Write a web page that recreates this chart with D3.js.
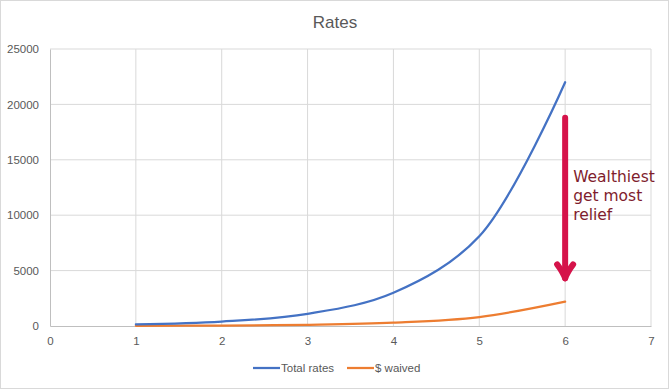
<!DOCTYPE html>
<html>
<head>
<meta charset="utf-8">
<script src="https://cdn.jsdelivr.net/npm/d3@7"></script>
<style>
  body { margin: 0; background: #fff; }
  svg { display: block; font-family: "Liberation Sans", Arial, sans-serif; }
  .tick text { fill: #595959; font-size: 11.5px; }
</style>
</head>
<body>
<div id="chart"></div>
<script>
// chart values
const years = [1, 2, 3, 4, 5, 6];
const totalRates = [150, 400, 1100, 3000, 8100, 22000];
const dollarsWaived = [15, 40, 110, 300, 810, 2200];
const xTicks = [0, 1, 2, 3, 4, 5, 6, 7];
const yTicks = [0, 5000, 10000, 15000, 20000, 25000];
const seriesNames = ['Total rates', '$ waived'];
const noteLines = ['Wealthiest', 'get most', 'relief'];

const width = 669, height = 389;
const margin = {top: 49, right: 18, bottom: 63, left: 50};
const innerW = width - margin.left - margin.right;
const innerH = height - margin.top - margin.bottom;

const svg = d3.select('#chart').append('svg')
    .attr('width', width)
    .attr('height', height);

// outer chart border
svg.append('rect')
    .attr('x', 0.5).attr('y', 0.5)
    .attr('width', width - 1).attr('height', height - 1)
    .attr('fill', '#fff')
    .attr('stroke', '#d9d9d9');

svg.append('text')
    .attr('x', 335).attr('y', 28)
    .attr('text-anchor', 'middle')
    .attr('fill', '#595959')
    .style('font-size', '17px')
    .text('Rates');

const chart = svg.append('g')
    .attr('transform', `translate(${margin.left},${margin.top})`);

const x = d3.scaleLinear().domain([0, 7]).range([0, innerW]);
const y = d3.scaleLinear().domain([0, 25000]).range([innerH, 0]);

// gridlines
chart.append('g')
    .selectAll('line.vgrid')
    .data(xTicks.slice(1))
  .join('line')
    .attr('x1', d => x(d)).attr('x2', d => x(d))
    .attr('y1', 0).attr('y2', innerH)
    .attr('stroke', '#d9d9d9');

chart.append('g')
    .selectAll('line.hgrid')
    .data(yTicks.slice(1))
  .join('line')
    .attr('x1', 0).attr('x2', innerW)
    .attr('y1', d => y(d)).attr('y2', d => y(d))
    .attr('stroke', '#d9d9d9');

// axes
const xAxis = chart.append('g')
    .attr('transform', `translate(0,${innerH})`)
    .call(d3.axisBottom(x).tickValues(xTicks).tickSize(0).tickPadding(11).tickFormat(d3.format('d')));
xAxis.select('.domain').attr('stroke', '#bfbfbf');

const yAxis = chart.append('g')
    .call(d3.axisLeft(y).tickValues(yTicks).tickSize(0).tickPadding(11).tickFormat(d3.format('d')));
yAxis.select('.domain').attr('stroke', '#bfbfbf');

// series
const line = d3.line()
    .x((d, i) => x(years[i]))
    .y(d => y(d))
    .curve(d3.curveCatmullRom.alpha(0.5));

chart.append('path')
    .datum(dollarsWaived)
    .attr('d', line)
    .attr('fill', 'none')
    .attr('stroke', '#ed7d31')
    .attr('stroke-width', 2.25)
    .attr('stroke-linecap', 'round');

chart.append('path')
    .datum(totalRates)
    .attr('d', line)
    .attr('fill', 'none')
    .attr('stroke', '#4472c4')
    .attr('stroke-width', 2.25)
    .attr('stroke-linecap', 'round');

// annotation arrow
const arrowX = x(6);
const arrowTop = y(18800), arrowTip = y(4300);
const arrow = chart.append('g')
    .attr('fill', 'none')
    .attr('stroke', '#d5134a')
    .attr('stroke-width', 6)
    .attr('stroke-linecap', 'round')
    .attr('stroke-linejoin', 'round');
arrow.append('line')
    .attr('x1', arrowX).attr('x2', arrowX)
    .attr('y1', arrowTop).attr('y2', arrowTip);
arrow.append('path')
    .attr('d', `M${arrowX - 8},${arrowTip - 14} Q${arrowX - 2},${arrowTip - 6} ${arrowX},${arrowTip} Q${arrowX + 2},${arrowTip - 6} ${arrowX + 8},${arrowTip - 14}`);

chart.append('text')
    .attr('x', arrowX + 8)
    .attr('y', y(13000))
    .attr('fill', '#7f1d2d')
    .style('font-family', '"DejaVu Sans", sans-serif')
    .style('font-size', '15.5px')
    .selectAll('tspan')
    .data(noteLines)
  .join('tspan')
    .attr('x', arrowX + 8)
    .attr('dy', (d, i) => i === 0 ? 0 : 19)
    .text(d => d);

// legend
const legend = svg.append('g')
    .attr('transform', 'translate(253,368)');
const legendColors = ['#4472c4', '#ed7d31'];
const legendOffsets = [0, 94];
seriesNames.forEach((name, i) => {
  const g = legend.append('g').attr('transform', `translate(${legendOffsets[i]},0)`);
  g.append('line')
      .attr('x1', 0).attr('x2', 27)
      .attr('stroke', legendColors[i])
      .attr('stroke-width', 2.25);
  g.append('text')
      .attr('x', 28).attr('y', 4)
      .attr('fill', '#595959')
      .style('font-size', '11.5px')
      .text(name);
});
</script>
</body>
</html>
